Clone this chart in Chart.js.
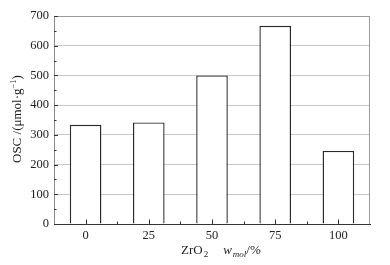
<!DOCTYPE html>
<html>
<head>
<meta charset="utf-8">
<script src="https://cdn.jsdelivr.net/npm/chart.js@4/dist/chart.umd.min.js"></script>
<style>
html,body{margin:0;padding:0;background:#fff;}
#wrap{width:390px;height:265px;}
</style>
</head>
<body>
<div id="wrap"><canvas id="c" width="390" height="265"></canvas></div>
<script>
const categories = ["0", "25", "50", "75", "100"];
const oscValues = [334, 342, 500, 667, 246];
const yTicks = [0, 100, 200, 300, 400, 500, 600, 700];

const FONT = "'Liberation Serif', 'Times New Roman', serif";

const framePlugin = {
  id: 'frame',
  afterDraw(chart) {
    const ctx = chart.ctx;
    const a = chart.chartArea;
    const x = chart.scales.x, y = chart.scales.y;
    ctx.save();
    ctx.strokeStyle = '#9a9a9a';
    ctx.lineWidth = 1;
    ctx.beginPath();
    ctx.moveTo(a.left, a.top + 0.5); ctx.lineTo(a.right, a.top + 0.5);
    ctx.moveTo(a.right - 0.5, a.top); ctx.lineTo(a.right - 0.5, a.bottom);
    ctx.stroke();
    ctx.strokeStyle = '#333';
    ctx.beginPath();
    for (let v = 0; v <= 700; v += 50) {
      const py = Math.round(y.getPixelForValue(v)) + 0.5;
      const len = (v % 100 === 0) ? 4 : 2.5;
      ctx.moveTo(a.left, py); ctx.lineTo(a.left + len, py);
    }
    const n = categories.length;
    const w = (a.right - a.left) / n;
    for (let i = 0; i < n; i++) {
      const px = Math.round(x.getPixelForValue(i)) + 0.5;
      ctx.moveTo(px, a.bottom); ctx.lineTo(px, a.bottom - 4.5);
    }
    for (let i = 1; i < n; i++) {
      const px = Math.round(a.left + w * i) + 0.5;
      ctx.moveTo(px, a.bottom); ctx.lineTo(px, a.bottom - 2.5);
    }
    ctx.stroke();

    ctx.fillStyle = '#222';
    ctx.textBaseline = 'alphabetic';
    let tx = 181, ty = 254;
    ctx.font = '13px ' + FONT;
    ctx.fillText('ZrO', tx, ty); tx += ctx.measureText('ZrO').width + 1;
    ctx.font = '9px ' + FONT;
    ctx.fillText('2', tx, ty + 3); tx += ctx.measureText('2').width + 15;
    ctx.font = 'italic 13px ' + FONT;
    ctx.fillText('w', tx, ty); tx += ctx.measureText('w').width + 1;
    ctx.font = 'italic 9px ' + FONT;
    ctx.fillText('mol', tx, ty + 3); tx += ctx.measureText('mol').width;
    ctx.font = '13px ' + FONT;
    ctx.fillText('/%', tx, ty);

    ctx.save();
    ctx.translate(21, 163);
    ctx.rotate(-Math.PI / 2);
    let yx = 0;
    ctx.font = '13px ' + FONT;
    const s1 = 'OSC /(\u03bcmol\u00b7g';
    ctx.fillText(s1, yx, 0); yx += ctx.measureText(s1).width;
    ctx.font = '8.5px ' + FONT;
    ctx.fillText('\u22121', yx, -5); yx += ctx.measureText('\u22121').width;
    ctx.font = '13px ' + FONT;
    ctx.fillText(')', yx, 0);
    ctx.restore();
    ctx.restore();
  }
};

new Chart(document.getElementById('c'), {
  type: 'bar',
  data: {
    labels: categories,
    datasets: [{
      data: oscValues,
      backgroundColor: '#ffffff',
      borderColor: '#2a2a2a',
      borderWidth: 1.4,
      barPercentage: 0.5,
      categoryPercentage: 1.0
    }]
  },
  options: {
    responsive: false,
    animation: false,
    devicePixelRatio: 1,
    layout: { padding: { top: 16, right: 20, left: 0, bottom: 0 } },
    plugins: { legend: { display: false }, tooltip: { enabled: false } },
    scales: {
      x: {
        grid: { display: false, drawTicks: false },
        border: { display: true, color: '#333', width: 1 },
        ticks: { color: '#222', font: { family: FONT, size: 12.5 }, padding: 4 },
        afterFit(s) { s.height = 41; }
      },
      y: {
        min: 0, max: 700,
        afterBuildTicks(s) { s.ticks = yTicks.map(v => ({ value: v })); },
        grid: { color: ctx => ctx.tick && (ctx.tick.value === 0 || ctx.tick.value === 700) ? 'rgba(0,0,0,0)' : '#c8c8c8', drawTicks: false },
        border: { display: true, color: '#8a8a8a', width: 1 },
        ticks: { color: '#222', font: { family: FONT, size: 12.5 }, padding: 5 },
        afterFit(s) { s.width = 54; }
      }
    }
  },
  plugins: [framePlugin]
});
</script>
</body>
</html>
